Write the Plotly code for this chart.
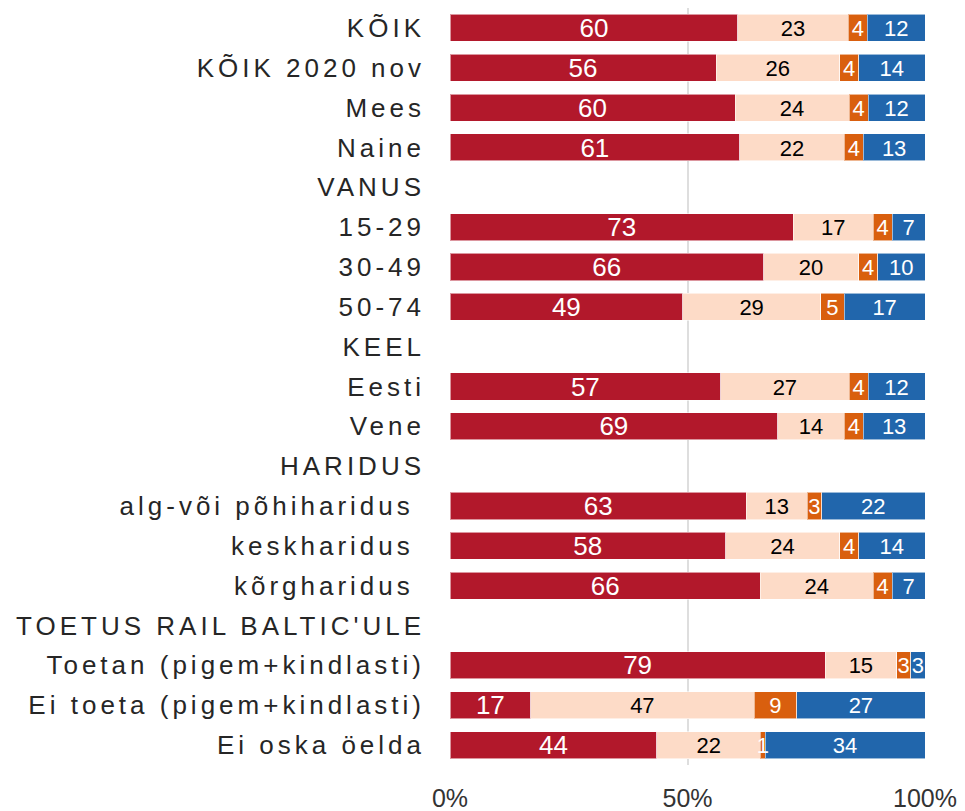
import plotly.graph_objects as go

categories = [
    "KÕIK", "KÕIK 2020 nov", "Mees", "Naine", "VANUS",
    "15-29", "30-49", "50-74", "KEEL", "Eesti", "Vene", "HARIDUS",
    "alg-või põhiharidus\u00a0", "keskharidus\u00a0", "kõrgharidus\u00a0",
    "TOETUS RAIL BALTIC'ULE",
    "Toetan (pigem+kindlasti)", "Ei toeta (pigem+kindlasti)", "Ei oska öelda",
]

series_names = ["Seeria 1", "Seeria 2", "Seeria 3", "Seeria 4"]
s1 = [60, 56, 60, 61, None, 73, 66, 49, None, 57, 69, None, 63, 58, 66, None, 79, 17, 44]
s2 = [23, 26, 24, 22, None, 17, 20, 29, None, 27, 14, None, 13, 24, 24, None, 15, 47, 22]
s3 = [4, 4, 4, 4, None, 4, 4, 5, None, 4, 4, None, 3, 4, 4, None, 3, 9, 1]
s4 = [12, 14, 12, 13, None, 7, 10, 17, None, 12, 13, None, 22, 14, 7, None, 3, 27, 34]

colors = ["#B2182B", "#FDDBC7", "#D95F0E", "#2166AC"]
text_colors = ["white", "black", "white", "white"]
text_sizes = [26, 22, 22, 22]

all_series = [s1, s2, s3, s4]

fig = go.Figure()
for name, vals, col in zip(series_names, all_series, colors):
    fig.add_trace(go.Bar(
        y=categories, x=vals, name=name, orientation="h",
        marker=dict(color=col, line=dict(color="rgba(255,255,255,0.55)", width=1)),
        hoverinfo="skip", showlegend=False,
    ))

# label positions derived from the data (normalised midpoints)
for k, (vals, tc, ts) in enumerate(zip(all_series, text_colors, text_sizes)):
    xs, ts_txt = [], []
    for i in range(len(categories)):
        if vals[i] is None:
            xs.append(None)
            ts_txt.append("")
            continue
        row = [s[i] for s in all_series]
        total = sum(row)
        before = sum(row[:k])
        xs.append((before + vals[i] / 2) / total * 100)
        ts_txt.append(str(vals[i]))
    fig.add_trace(go.Scatter(
        y=categories, x=xs, mode="text", text=ts_txt, yaxis="y2",
        textposition="middle center",
        textfont=dict(family="Liberation Sans, Arial, sans-serif", size=ts, color=tc),
        hoverinfo="skip", showlegend=False, cliponaxis=False,
    ))

n = len(categories)
fig.update_layout(
    barmode="stack", barnorm="percent", bargap=0.32,
    width=965, height=811,
    margin=dict(l=442, r=48, t=0, b=54),
    plot_bgcolor="white", paper_bgcolor="white",
    font=dict(family="Liberation Sans, Arial, sans-serif", color="#262626"),
    xaxis=dict(
        range=[0, 100], tickvals=[0, 50, 100], ticktext=["0%", "50%", "100%"],
        showgrid=True, gridcolor="#dedede", gridwidth=1.5, zeroline=False,
        showline=False, ticks="", tickfont=dict(size=25, color="#333333"),
        ticklabelstandoff=16, fixedrange=True,
    ),
    yaxis=dict(
        type="category", categoryorder="array", categoryarray=categories,
        range=[n - 0.5, -0.5],
        showgrid=False, zeroline=False, showline=False, ticks="",
        tickfont=dict(size=26, color="#262626"), ticklabelstandoff=24,
        fixedrange=True,
    ),
    yaxis2=dict(
        type="category", categoryorder="array", categoryarray=categories,
        range=[n - 0.5 - 0.065, -0.5 - 0.065], overlaying="y",
        showticklabels=False, showgrid=False, zeroline=False, showline=False,
        ticks="", fixedrange=True,
    ),
)

post = """
var gd = document.getElementById('{plot_id}');
function ls(){ gd.querySelectorAll('.ytick text').forEach(function(t){ t.setAttribute('letter-spacing','4px'); t.style.letterSpacing='4px'; }); }
ls(); if (gd.on) { gd.on('plotly_afterplot', ls); }
"""

fig.write_html("out.html", post_script=post, config={"displayModeBar": False})
